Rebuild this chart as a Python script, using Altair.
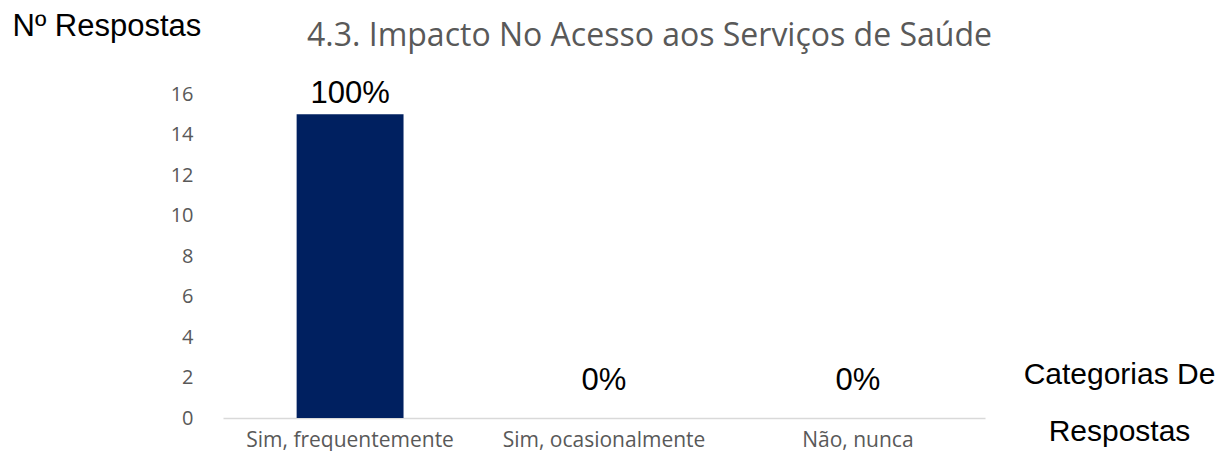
import altair as alt
import pandas as pd

categorias = ["Sim, frequentemente", "Sim, ocasionalmente", "Não, nunca"]
respostas = [15, 0, 0]
percentagens = ["100%", "0%", "0%"]
y_ticks = [0, 2, 4, 6, 8, 10, 12, 14, 16]

df = pd.DataFrame({"categoria": categorias, "n": respostas, "pct": percentagens})

GRAY = "#595959"
TICK_FONT = "Open Sans"
LABEL_FONT = "Liberation Sans"

x_enc = alt.X(
    "categoria:N",
    sort=categorias,
    scale=alt.Scale(paddingInner=0.579, paddingOuter=0.29),
    axis=alt.Axis(
        title=["Categorias De", "Respostas"],
        titleFont=LABEL_FONT,
        titleFontSize=30,
        titleFontWeight="normal",
        titleColor="black",
        titleAlign="center",
        titleBaseline="alphabetic",
        titleLineHeight=57,
        titleX=896,
        titleY=-35,
        titleAngle=0,
        labelAngle=0,
        labelFont=TICK_FONT,
        labelFontSize=21,
        labelColor=GRAY,
        labelBaseline="alphabetic",
        labelPadding=28,
        labelLimit=400,
        ticks=False,
        tickSize=0,
        domainColor="#d9d9d9",
        domainWidth=1.3,
        grid=False,
    ),
)

y_enc = alt.Y(
    "n:Q",
    scale=alt.Scale(domain=[0, 16], nice=False),
    axis=alt.Axis(
        values=y_ticks,
        title="Nº Respostas",
        titleFont=LABEL_FONT,
        titleFontSize=31,
        titleFontWeight="normal",
        titleColor="black",
        titleAngle=0,
        titleAlign="left",
        titleBaseline="alphabetic",
        titleX=-211,
        titleY=-59,
        labelFont=TICK_FONT,
        labelFontSize=20,
        labelColor=GRAY,
        labelPadding=30,
        ticks=False,
        tickSize=0,
        domain=False,
        grid=False,
    ),
)

base = alt.Chart(df)

bars = base.mark_bar(color="#002060").encode(x=x_enc, y=y_enc)

text_style = dict(font=LABEL_FONT, fontSize=31, color="black", baseline="alphabetic", align="center")

labels_pos = base.transform_filter("datum.n > 0").mark_text(dy=-11, **text_style).encode(
    x=alt.X("categoria:N", sort=categorias), y="n:Q", text="pct:N"
)
labels_zero = base.transform_filter("datum.n <= 0").mark_text(dy=-28, **text_style).encode(
    x=alt.X("categoria:N", sort=categorias), y="n:Q", text="pct:N"
)

chart = (
    alt.layer(bars, labels_pos, labels_zero)
    .properties(
        width=762,
        height=324,
        title=alt.TitleParams(
            "4.3. Impacto No Acesso aos Serviços de Saúde",
            font=TICK_FONT,
            fontSize=32,
            fontWeight="normal",
            color=GRAY,
            anchor="start",
            frame="group",
            dx=84,
            dy=68,
            baseline="alphabetic",
            offset=0,
        ),
        autosize=alt.AutoSizeParams(type="none"),
        padding={"left": 215, "top": 86, "right": 234, "bottom": 33},
    )
    .configure_view(stroke=None)
)

chart.save("out.html", embed_options={"renderer": "svg", "actions": False})
